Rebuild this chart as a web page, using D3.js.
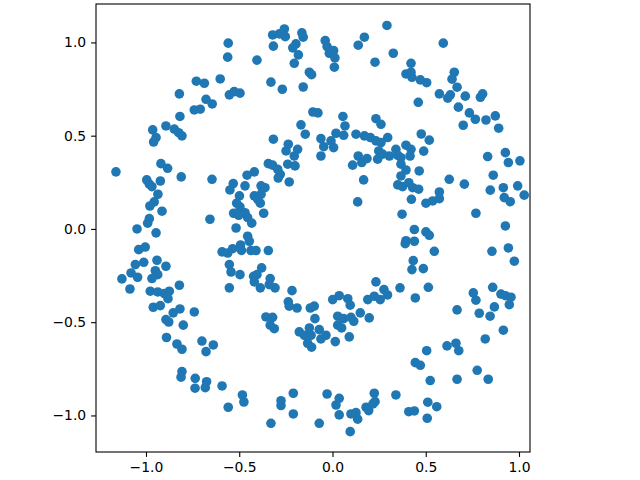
<!DOCTYPE html>
<html>
<head>
<meta charset="utf-8">
<script src="https://cdn.jsdelivr.net/npm/d3@7"></script>
<style>
  html, body { margin: 0; padding: 0; background: #fff; }
  svg { display: block; }
  .tick text { font-family: "DejaVu Sans", sans-serif; font-size: 13.9px; fill: #000; }
  .tick line { stroke: #000; stroke-width: 1.1px; }
</style>
</head>
<body>
<svg id="chart" width="640" height="480"></svg>
<script>
const xTicks = [-1.0, -0.5, 0.0, 0.5, 1.0];
const yTicks = [-1.0, -0.5, 0.0, 0.5, 1.0];
const xDomain = [-1.268, 1.059];
const yDomain = [-1.196, 1.206];

const points = [
[-0.559,0.996],[-0.562,0.921],[-0.730,0.792],[-0.687,0.781],[-0.602,0.804],[-0.821,0.724],[-0.678,0.695],[-0.645,0.670],[-0.553,0.719],[-0.527,0.736],[-0.496,0.728],[-0.741,0.638],[-0.709,0.642],[-0.818,0.603],
[-0.321,1.040],[-0.285,1.046],[-0.258,1.072],[-0.253,1.031],[-0.164,1.051],[-0.157,1.028],[-0.317,0.980],[-0.213,0.971],[-0.196,0.992],[-0.183,0.933],[-0.205,0.888],[-0.039,1.010],[-0.029,0.978],[-0.017,0.942],[0.006,0.956],[0.013,0.917],[0.010,0.867],[0.171,1.028],[0.138,0.985],[0.228,0.894],[0.292,1.091],[-0.405,0.905],[-0.124,0.840],[-0.112,0.827],[-0.330,0.787],[-0.269,0.749],[-0.157,0.761],[-0.105,0.627],[-0.078,0.622],[0.056,0.603],
[0.594,0.996],[0.326,0.942],[0.421,0.888],[0.394,0.831],[0.421,0.840],[0.426,0.813],[0.471,0.799],[0.505,0.784],[0.653,0.840],[0.641,0.803],[0.668,0.760],[0.573,0.724],[0.618,0.701],[0.632,0.719],[0.712,0.712],[0.793,0.706],[0.805,0.724],[0.460,0.679],[0.675,0.653],[0.734,0.622],[0.766,0.588],[0.873,0.606],[0.823,0.584],[0.701,0.556],[0.891,0.540],
[0.296,0.490],[0.476,0.509],[0.519,0.476],[0.489,0.417],[0.394,0.449],[0.421,0.427],[0.340,0.427],[0.305,0.391],[0.350,0.395],[0.367,0.382],[0.416,0.391],[0.367,0.347],[0.394,0.316],[0.367,0.284],[0.465,0.311],[0.350,0.236],[0.376,0.227],[0.409,0.248],[0.430,0.221],[0.462,0.213],[0.423,0.159],[0.501,0.138],[0.537,0.150],[0.573,0.198],[0.573,0.162],[0.626,0.266],[0.707,0.240],[0.373,0.079],[0.439,-0.003],[0.769,0.084],[0.832,0.388],[0.927,0.409],[0.943,0.356],[1.005,0.365],[0.862,0.288],[0.846,0.208],[0.916,0.221],[0.993,0.231],[0.921,0.168],[0.953,0.146],[1.028,0.181],[0.927,0.016],
[-0.964,0.531],[-0.893,0.552],[-0.848,0.535],[-0.825,0.516],[-0.807,0.499],[-0.946,0.490],[-0.959,0.466],[-1.161,0.306],[-0.920,0.350],[-0.884,0.325],[-0.811,0.279],[-0.996,0.263],[-0.982,0.240],[-0.968,0.227],[-0.923,0.257],[-0.936,0.186],[-0.956,0.145],[-0.979,0.123],[-0.914,0.095],[-0.982,0.055],[-0.991,0.031],[-1.048,0.000],[-0.646,0.266],[-0.657,0.052],[-0.532,0.243],[-0.550,0.209],[-0.499,0.177],[-0.514,0.138],[-0.496,0.118],[-0.530,0.084],[-0.503,0.073],[-0.517,0.005],
[-0.169,0.558],[-0.146,0.508],[-0.317,0.481],[-0.237,0.454],[-0.249,0.418],[-0.187,0.427],[-0.205,0.391],[-0.240,0.347],[-0.201,0.338],[-0.344,0.350],[-0.321,0.342],[-0.294,0.320],[-0.280,0.293],[-0.291,0.273],[-0.232,0.252],[-0.419,0.306],[-0.458,0.288],[-0.469,0.231],[-0.383,0.231],[-0.362,0.221],[-0.419,0.177],[-0.401,0.159],[-0.383,0.186],[-0.387,0.138],[-0.369,0.084],[-0.469,0.087],[-0.455,0.061],[-0.433,0.031],[-0.062,0.484],[-0.047,0.441],[-0.062,0.391],[-0.008,0.472],[0.019,0.513],[0.006,0.436],[0.060,0.502],[0.067,0.552],[0.126,0.508],[0.171,0.499],[0.203,0.490],[0.233,0.472],[0.260,0.463],[0.248,0.418],[0.242,0.374],[0.269,0.401],[0.233,0.591],[0.260,0.561],[0.138,0.391],[0.157,0.356],[0.185,0.377],[0.108,0.342],[0.167,0.263],[0.135,0.145],
[-0.946,-0.021],[-1.039,-0.111],[-1.004,-0.097],[-1.057,-0.191],[-1.012,-0.179],[-1.080,-0.236],[-1.045,-0.259],[-1.129,-0.268],[-1.086,-0.322],[-0.941,-0.168],[-0.893,-0.200],[-0.950,-0.224],[-0.937,-0.245],[-0.968,-0.266],[-0.977,-0.334],[-0.937,-0.338],[-0.902,-0.347],[-0.875,-0.334],[-0.882,-0.374],[-0.821,-0.302],[-0.961,-0.420],[-0.923,-0.411],[-0.854,-0.450],[-0.818,-0.429],[-0.741,-0.445],[-0.893,-0.486],[-0.878,-0.499],[-0.800,-0.516],[-0.890,-0.582],[-0.592,-0.123],[-0.562,-0.129],[-0.535,-0.106],[-0.493,-0.086],[-0.488,-0.115],[-0.553,-0.191],[-0.544,-0.231],[-0.496,-0.245],[-0.553,-0.316],
[-0.455,-0.039],[-0.446,-0.066],[-0.437,-0.116],[-0.410,-0.116],[-0.344,-0.116],[-0.380,-0.209],[-0.423,-0.254],[-0.405,-0.245],[-0.419,-0.284],[-0.387,-0.316],[-0.334,-0.266],[-0.339,-0.299],[-0.308,-0.316],[-0.217,-0.331],[-0.237,-0.391],[-0.232,-0.414],[-0.190,-0.424],[-0.119,-0.424],[-0.098,-0.414],[-0.094,-0.481],[-0.357,-0.472],[-0.321,-0.474],[-0.334,-0.516],[-0.312,-0.535],[-0.178,-0.552],[-0.151,-0.570],[-0.124,-0.531],[-0.115,-0.570],[-0.071,-0.540],[-0.035,-0.570],[0.001,-0.379],[0.036,-0.358],[0.082,-0.374],[0.095,-0.409],[0.028,-0.468],[0.060,-0.481],[0.028,-0.516],[0.049,-0.531],[0.099,-0.474],[0.114,-0.495],[0.149,-0.450],[0.090,-0.579],[0.197,-0.477],[0.189,-0.379],[0.224,-0.361],[0.256,-0.379],[0.233,-0.284],[0.276,-0.325],
[-0.133,-0.613],[-0.112,-0.634],[-0.062,-0.590],[0.015,-0.604],[-0.483,-0.890],[-0.475,-0.928],[-0.276,-0.921],[-0.276,-0.947],[-0.210,-0.881],[-0.210,-0.992],[-0.330,-1.042],[-0.029,-0.885],[0.036,-0.908],[0.019,-0.944],[0.036,-0.997],[-0.071,-1.042],[0.099,-0.992],[0.126,-0.985],[0.135,-1.020],[0.095,-1.087],[0.180,-0.956],[0.194,-0.974],[0.224,-0.881],[0.228,-0.926],[0.217,-0.938],
[-0.834,-0.617],[-0.807,-0.645],[-0.700,-0.601],[-0.639,-0.622],[-0.678,-0.658],[-0.807,-0.765],[-0.812,-0.795],[-0.736,-0.801],[-0.675,-0.819],[-0.737,-0.854],[-0.682,-0.851],[-0.592,-0.842],[-0.559,-0.956],
[0.819,-0.590],[0.614,-0.627],[0.662,-0.613],[0.677,-0.653],[0.505,-0.653],[0.444,-0.717],[0.471,-0.731],[0.524,-0.813],[0.668,-0.806],[0.776,-0.758],[0.835,-0.806],[0.340,-0.890],[0.511,-0.929],[0.559,-0.953],[0.409,-0.980],[0.439,-0.976],[0.508,-1.015],
[0.501,-0.016],[0.519,-0.034],[0.394,-0.063],[0.390,-0.079],[0.439,-0.066],[0.546,-0.120],[0.433,-0.170],[0.426,-0.218],[0.487,-0.213],[0.295,-0.354],[0.362,-0.316],[0.444,-0.370],[0.514,-0.313],[0.668,-0.434],[0.755,-0.343],[0.769,-0.382],[0.787,-0.452],[0.845,-0.468],[0.868,-0.418],[0.859,-0.313],[0.903,-0.349],[0.927,-0.358],[0.957,-0.366],[0.948,-0.406],[0.916,-0.543],[0.855,-0.120],[0.943,-0.102],[0.975,-0.173]
];

const plotLeft = 96, plotRight = 530, plotTop = 4, plotBottom = 452;
const svg = d3.select("#chart");
svg.append("rect").attr("width", 640).attr("height", 480).attr("fill", "#fff");

const x = d3.scaleLinear().domain(xDomain).range([plotLeft, plotRight]);
const y = d3.scaleLinear().domain(yDomain).range([plotBottom, plotTop]);
const fmt = d3.format(".1f");

svg.append("g")
  .selectAll("circle")
  .data(points)
  .join("circle")
  .attr("cx", d => x(d[0]))
  .attr("cy", d => y(d[1]))
  .attr("r", 4.8)
  .attr("fill", "#1f77b4");

const gx = svg.append("g")
  .attr("transform", `translate(0,${plotBottom})`)
  .call(d3.axisBottom(x).tickValues(xTicks).tickFormat(fmt).tickSize(4.9).tickPadding(4.9).tickSizeOuter(0));
gx.select(".domain").remove();

const gy = svg.append("g")
  .attr("transform", `translate(${plotLeft},0)`)
  .call(d3.axisLeft(y).tickValues(yTicks).tickFormat(fmt).tickSize(4.9).tickPadding(4.9).tickSizeOuter(0));
gy.select(".domain").remove();

svg.append("rect")
  .attr("x", plotLeft).attr("y", plotTop)
  .attr("width", plotRight - plotLeft).attr("height", plotBottom - plotTop)
  .attr("fill", "none").attr("stroke", "#000").attr("stroke-width", 1.1);
</script>
</body>
</html>
